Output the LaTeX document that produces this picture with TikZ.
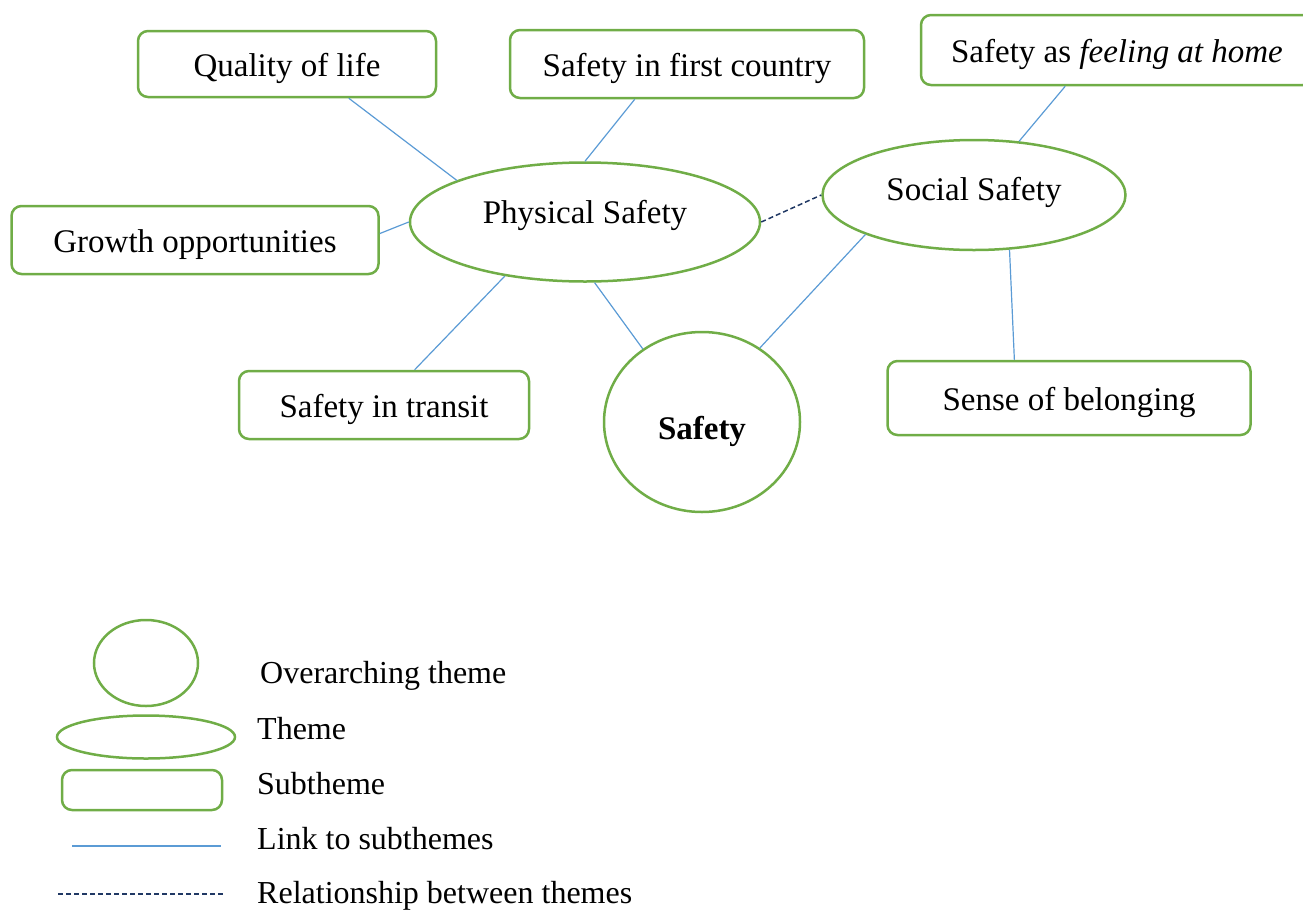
\documentclass[tikz,border=0pt]{standalone}
\usepackage{fontspec}
\setmainfont{Liberation Serif}
\usetikzlibrary{positioning,shapes}

\definecolor{themegreen}{HTML}{70AD47}
\definecolor{linkblue}{HTML}{5B9BD5}
\definecolor{relblue}{HTML}{203864}

\begin{document}
\begin{tikzpicture}[x=1pt,y=-1pt,
  every node/.style={font=\fontsize{33}{40}\selectfont},
  subtheme/.style={draw=themegreen, line width=2.5, rounded corners=10, inner sep=0, text height=26, text depth=2},
  theme/.style={draw=themegreen, line width=2.5, ellipse, inner sep=0},
  keytext/.style={anchor=west, inner sep=0, font=\fontsize{32}{38}\selectfont},
  sublink/.style={draw=linkblue, line width=1.2},
  themelink/.style={draw=relblue, line width=1.5, dash pattern=on 5pt off 3pt}]
\path[use as bounding box] (0,0) rectangle (1303,911);
\clip (0,0) rectangle (1303,911);

\node[theme, minimum width=196, minimum height=180, text height=37, text depth=1.4, font=\fontsize{33}{40}\selectfont\bfseries] (safety) at (702,422) {Safety};
\node[theme, minimum width=350, minimum height=119, text height=14, text depth=10.4] (physical) at (585,222) {Physical Safety};
\node[theme, minimum width=303, minimum height=110, text height=18, text depth=6.4] (social) at (974,195) {Social Safety};

\node[subtheme, minimum width=298, minimum height=66] (quality) at (287,64) {Quality of life};
\node[subtheme, minimum width=354, minimum height=68] (firstcountry) at (687,64) {Safety in first country};
\node[subtheme, minimum width=392, minimum height=70] (home) at (1117,50) {Safety as \textit{feeling at home}};
\node[subtheme, minimum width=367, minimum height=68] (growth) at (195,240) {Growth opportunities};
\node[subtheme, minimum width=290, minimum height=68] (transit) at (384,405) {Safety in transit};
\node[subtheme, minimum width=363, minimum height=74] (belonging) at (1069,398) {Sense of belonging};

\draw[sublink] (quality.-29) -- (physical.162);
\draw[sublink] (firstcountry.-146) -- (physical.90);
\draw[sublink] (growth.2.5) -- (physical.180);
\draw[sublink] (transit.49) -- (physical.-146.5);
\draw[sublink] (physical.-81.6) -- (safety.129);
\draw[sublink] (social.-160) -- (safety.52.5);
\draw[sublink] (home.-145) -- (social.50);
\draw[sublink] (belonging.145) -- (social.-57.5);
\draw[themelink] (physical.east) -- (social.west);

% key
\node[theme, minimum width=104, minimum height=86] (keyoverarching) at (146,663) {};
\node[theme, minimum width=178, minimum height=43] (keytheme) at (146,737) {};
\node[subtheme, minimum width=160, minimum height=40] (keysubtheme) at (142,790) {};
\coordinate (keylinkA) at (72,846);
\coordinate (keylinkB) at (221,846);
\coordinate (keyrelA) at (58,894);
\coordinate (keyrelB) at (225,894);
\draw[sublink] (keylinkA) -- (keylinkB);
\draw[themelink] (keyrelA) -- (keyrelB);

\node[keytext] (overarchingtext) at (260,676) {Overarching theme};
\node[keytext] (themetext) at (257,729) {Theme};
\node[keytext] (subthemetext) at (257,784) {Subtheme};
\node[keytext] (linktext) at (257,839) {Link to subthemes};
\node[keytext] (reltext) at (257,896) {Relationship between themes};
\end{tikzpicture}
\end{document}
